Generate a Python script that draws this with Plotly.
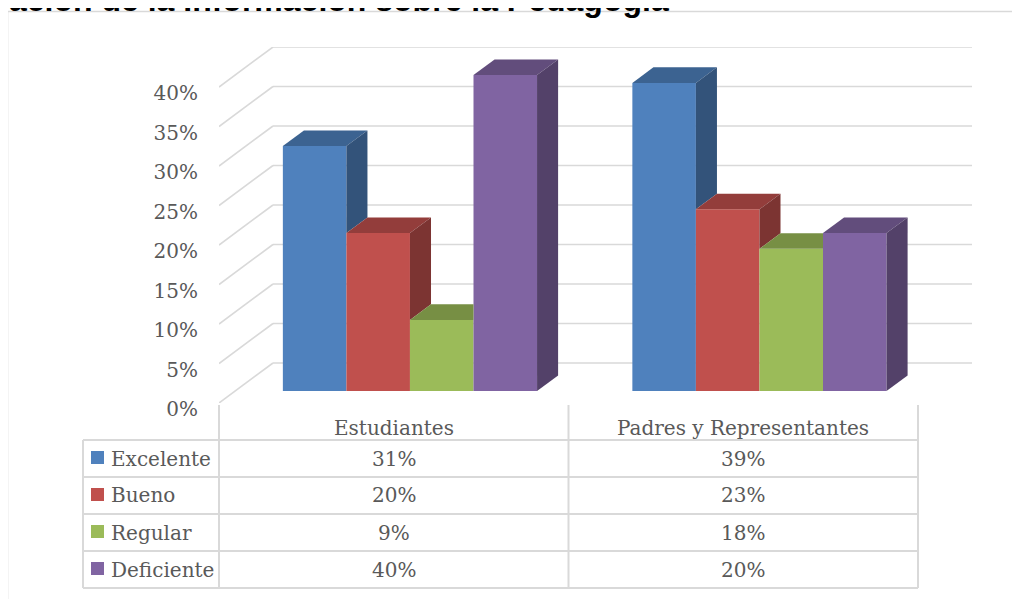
import plotly.graph_objects as go

# ---------------- data ----------------
title_text = "Tabulación de la Información sobre la Pedagogía"
categories = ["Estudiantes", "Padres y Representantes"]
series_names = ["Excelente", "Bueno", "Regular", "Deficiente"]
excelente = [31, 39]
bueno = [20, 23]
regular = [9, 18]
deficiente = [40, 20]
series_values = [excelente, bueno, regular, deficiente]
y_tick_values = [0, 5, 10, 15, 20, 25, 30, 35, 40]
y_tick_labels = [f"{v}%" for v in y_tick_values]

front_colors = ["#4F81BD", "#C0504D", "#9BBB59", "#8064A2"]


def shade(hex_color, f):
    h = hex_color.lstrip("#")
    r, g, b = (int(h[i:i + 2], 16) for i in (0, 2, 4))
    return "#%02X%02X%02X" % (int(r * f), int(g * f), int(b * f))


top_colors = [shade(c, 0.77) for c in front_colors]
side_colors = [shade(c, 0.65) for c in front_colors]

# ---------------- geometry (layout, in screen pixels) ----------------
W, H = 1020, 599
PAGE_OFFSET = 8              # default body margin of the html page
FRONT_LEFT_PX = 219          # screen x of the front floor edge start
FRONT_ZERO_PX = 403          # screen y of 0% on the front edge
PX_PER_CAT = 349.5
PX_PER_PCT = 7.9
DEPTH_DX_PX, DEPTH_DY_PX = 54, 40

DX = DEPTH_DX_PX / PX_PER_CAT     # depth shift in category units
DY = DEPTH_DY_PX / PX_PER_PCT     # depth shift in percent units
D0, D1 = 0.30, 0.69               # front / back depth of the bars
GAP = 1.5                          # gap width 150 %
n_series = len(series_names)
BW = 1.0 / (n_series + GAP)

x_range = [0, len(categories) + DX]
y_range = [0, max(y_tick_values) + DY]
plot_w = (x_range[1] - x_range[0]) * PX_PER_CAT
plot_h = (y_range[1] - y_range[0]) * PX_PER_PCT
m_l = FRONT_LEFT_PX - PAGE_OFFSET
m_b = H - (FRONT_ZERO_PX - PAGE_OFFSET)
m_t = H - m_b - plot_h
m_r = W - m_l - plot_w


def px(xp):
    return (xp - FRONT_LEFT_PX) / plot_w


def py(yp):
    return (FRONT_ZERO_PX - yp) / plot_h


GRID = "#D9D9D9"
TEXT = "#595959"
SERIF = "DejaVu Serif"

fig = go.Figure()

# ---------------- bars (front faces) ----------------
bar_left = {}
for j, (name, vals) in enumerate(zip(series_names, series_values)):
    lefts = [i + D0 * DX + (GAP / 2) * BW + j * BW for i in range(len(categories))]
    bar_left[j] = lefts
    fig.add_trace(go.Bar(
        x=[l + BW / 2 for l in lefts], y=vals, base=D0 * DY, width=BW,
        marker=dict(color=front_colors[j], line=dict(width=0)),
        name=name, showlegend=False, hoverinfo="skip"))

# ---------------- 3D top and side faces ----------------
ddx = (D1 - D0) * DX
ddy = (D1 - D0) * DY
for i in range(len(categories)):
    for j in range(n_series):
        v = series_values[j][i]
        xl = bar_left[j][i]
        xr = xl + BW
        yt = v + D0 * DY
        nxt = series_values[j + 1][i] if j < n_series - 1 else None
        # top face (part hidden behind a taller neighbour is cut away)
        if nxt is not None and nxt > v:
            tx = [xl, xr, xr, xl + ddx, xl]
        else:
            tx = [xl, xr, xr + ddx, xl + ddx, xl]
        ty = [yt, yt, yt + ddy, yt + ddy, yt]
        fig.add_trace(go.Scatter(x=tx, y=ty, fill="toself", mode="lines",
                                 line=dict(width=0), fillcolor=top_colors[j],
                                 showlegend=False, hoverinfo="skip"))
        # side face (only the part above the next bar is visible)
        low = 0 if nxt is None else nxt
        if low < v:
            yb = low + D0 * DY
            sx = [xr, xr, xr + ddx, xr + ddx, xr]
            sy = [yb, yt, yt + ddy, yb + ddy, yb]
            fig.add_trace(go.Scatter(x=sx, y=sy, fill="toself", mode="lines",
                                     line=dict(width=0), fillcolor=side_colors[j],
                                     showlegend=False, hoverinfo="skip"))

shapes = []
# ---------------- walls / gridlines ----------------
for v in y_tick_values:
    shapes.append(dict(type="line", xref="x", yref="y", layer="below",
                       x0=DX, y0=v + DY, x1=len(categories) + DX, y1=v + DY,
                       line=dict(color=GRID, width=1.6)))
    shapes.append(dict(type="line", xref="x", yref="y", layer="below",
                       x0=0, y0=v, x1=DX, y1=v + DY,
                       line=dict(color=GRID, width=1.6)))

# ---------------- chart border ----------------
shapes.append(dict(type="line", xref="paper", yref="paper", layer="below",
                   x0=px(7.5), y0=py(11.5), x1=px(W + 20), y1=py(11.5),
                   line=dict(color=GRID, width=1.6)))
shapes.append(dict(type="line", xref="paper", yref="paper", layer="below",
                   x0=px(7.5), y0=py(11.5), x1=px(7.5), y1=py(H + 20),
                   line=dict(color=GRID, width=1.6)))

# ---------------- data table ----------------
TBL_TOP = 405
HDR_BOTTOM = 440
ROW_H = 37
LEG_LEFT = 83
row_edges = [HDR_BOTTOM + k * ROW_H for k in range(n_series + 1)]
tbl_bottom = row_edges[-1]
col_edges_px = [FRONT_LEFT_PX + k * PX_PER_CAT for k in range(len(categories) + 1)]

for xp in col_edges_px:
    shapes.append(dict(type="line", xref="paper", yref="paper",
                       x0=px(xp), x1=px(xp), y0=py(TBL_TOP), y1=py(tbl_bottom),
                       line=dict(color=GRID, width=2)))
shapes.append(dict(type="line", xref="paper", yref="paper",
                   x0=px(LEG_LEFT), x1=px(LEG_LEFT), y0=py(HDR_BOTTOM), y1=py(tbl_bottom),
                   line=dict(color=GRID, width=2)))
for yp in row_edges:
    shapes.append(dict(type="line", xref="paper", yref="paper",
                       x0=px(LEG_LEFT), x1=px(col_edges_px[-1]), y0=py(yp), y1=py(yp),
                       line=dict(color=GRID, width=2)))

annotations = []
for i, cat in enumerate(categories):
    annotations.append(dict(xref="paper", yref="paper",
                            x=px((col_edges_px[i] + col_edges_px[i + 1]) / 2), y=py(428),
                            text=cat, showarrow=False, xanchor="center", yanchor="middle",
                            font=dict(family=SERIF, size=20, color=TEXT)))

for j, name in enumerate(series_names):
    yc = row_edges[j] + ROW_H / 2
    shapes.append(dict(type="rect", xref="paper", yref="paper",
                       x0=px(91), x1=px(104), y0=py(yc - 7.5), y1=py(yc + 5.5),
                       fillcolor=front_colors[j], line=dict(width=0)))
    annotations.append(dict(xref="paper", yref="paper", x=px(109), y=py(yc),
                            text=name, showarrow=False, xanchor="left", yanchor="middle",
                            font=dict(family=SERIF, size=20, color=TEXT)))
    for i in range(len(categories)):
        annotations.append(dict(xref="paper", yref="paper",
                                x=px((col_edges_px[i] + col_edges_px[i + 1]) / 2), y=py(yc),
                                text=f"{series_values[j][i]}%", showarrow=False,
                                xanchor="center", yanchor="middle",
                                font=dict(family=SERIF, size=20, color=TEXT)))

# ---------------- title (cut off by the page edge, as in the reference) ----------------
annotations.append(dict(xref="paper", yref="paper", x=px(670), y=py(19.5),
                        text=title_text, showarrow=False, xanchor="right", yanchor="bottom",
                        borderpad=0,
                        font=dict(family="Liberation Sans", size=32, color="#000000",
                                  weight="bold")))

fig.update_layout(
    width=W, height=H,
    margin=dict(l=m_l, r=m_r, t=m_t, b=m_b, pad=0),
    paper_bgcolor="white", plot_bgcolor="white",
    barmode="overlay",
    showlegend=False,
    shapes=shapes,
    annotations=annotations,
    xaxis=dict(range=x_range, showgrid=False, zeroline=False, showline=False,
               showticklabels=False, ticks="", fixedrange=True),
    yaxis=dict(range=y_range, showgrid=False, zeroline=False, showline=False,
               tickmode="array", tickvals=y_tick_values, ticktext=y_tick_labels,
               ticks="", ticklabelstandoff=20, ticklabelshift=6,
               tickfont=dict(family=SERIF, size=20, color=TEXT), fixedrange=True),
)

fig.write_html("out.html")
